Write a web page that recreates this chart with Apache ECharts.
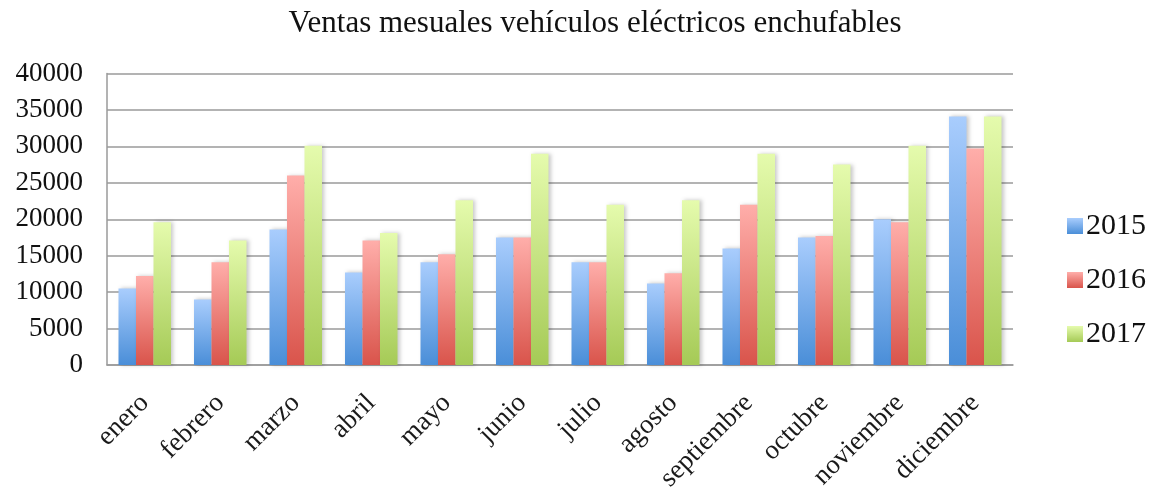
<!DOCTYPE html>
<html>
<head>
<meta charset="utf-8">
<script src="https://cdn.jsdelivr.net/npm/echarts@6/dist/echarts.min.js"></script>
<style>
  html, body { margin: 0; padding: 0; background: #fff; }
  #chart { width: 1153px; height: 488px; }
</style>
</head>
<body>
<div id="chart"></div>
<script>
// Monthly plug-in electric vehicle sales by year
const months = ['enero', 'febrero', 'marzo', 'abril', 'mayo', 'junio', 'julio',
  'agosto', 'septiembre', 'octubre', 'noviembre', 'diciembre'];
const years = ['2015', '2016', '2017'];
const sales2015 = [10500, 9000, 18600, 12700, 14100, 17500, 14100, 11200, 16000, 17500, 20000, 34100];
const sales2016 = [12200, 14100, 26000, 17100, 15200, 17500, 14100, 12600, 22000, 17700, 19600, 29700];
const sales2017 = [19600, 17100, 30100, 18100, 22600, 29000, 22000, 22600, 29000, 27500, 30100, 34100];
const yTicks = { min: 0, max: 40000, interval: 5000 };

const serif = '"Liberation Serif", "DejaVu Serif", serif';

function grad(top, bottom) {
  return new echarts.graphic.LinearGradient(0, 0, 0, 1, [
    { offset: 0, color: top },
    { offset: 1, color: bottom }
  ]);
}

const palette = [
  grad('#a9cdfd', '#4a8ed8'),
  grad('#ffaeaa', '#d9544b'),
  grad('#e5fbad', '#a5ca56')
];

const seriesData = [sales2015, sales2016, sales2017];

const chart = echarts.init(document.getElementById('chart'), null, { renderer: 'canvas' });
chart.setOption({
  backgroundColor: '#ffffff',
  animation: false,
  title: {
    text: 'Ventas mesuales vehículos eléctricos enchufables',
    left: 590,
    top: 3,
    textAlign: 'center',
    textStyle: { fontFamily: serif, fontSize: 31, fontWeight: 'normal', color: '#111' }
  },
  legend: {
    orient: 'vertical',
    left: 1062,
    top: 206,
    itemWidth: 16,
    itemHeight: 16,
    itemGap: 24,
    icon: 'rect',
    data: years,
    textStyle: { fontFamily: serif, fontSize: 30, color: '#111', padding: [0, 0, 0, -2] }
  },
  grid: {
    left: 107, right: 140, top: 73.5, bottom: 123,
    containLabel: false,
    outerBoundsMode: 'none'
  },
  xAxis: {
    type: 'category',
    data: months,
    axisTick: { show: false },
    axisLine: { show: true, lineStyle: { color: '#9a9a9a', width: 1.5 } },
    axisLabel: {
      rotate: 45,
      interval: 0,
      margin: 34,
      fontFamily: serif,
      fontSize: 27,
      color: '#1a1a1a'
    }
  },
  yAxis: {
    type: 'value',
    min: yTicks.min,
    max: yTicks.max,
    interval: yTicks.interval,
    axisLine: { show: true, lineStyle: { color: '#9a9a9a', width: 1.5 } },
    axisTick: { show: false },
    splitLine: { lineStyle: { color: '#9a9a9a', width: 1.5 } },
    axisLabel: {
      margin: 24,
      fontFamily: serif,
      fontSize: 27,
      color: '#111',
      formatter: (v) => String(v)
    }
  },
  series: years.map((y, i) => ({
    name: y,
    type: 'bar',
    data: seriesData[i],
    barWidth: 17.5,
    barGap: '0%',
    itemStyle: {
      color: palette[i],
      shadowColor: 'rgba(0,0,0,0.22)',
      shadowBlur: 4,
      shadowOffsetX: 2
    }
  }))
});
</script>
</body>
</html>
